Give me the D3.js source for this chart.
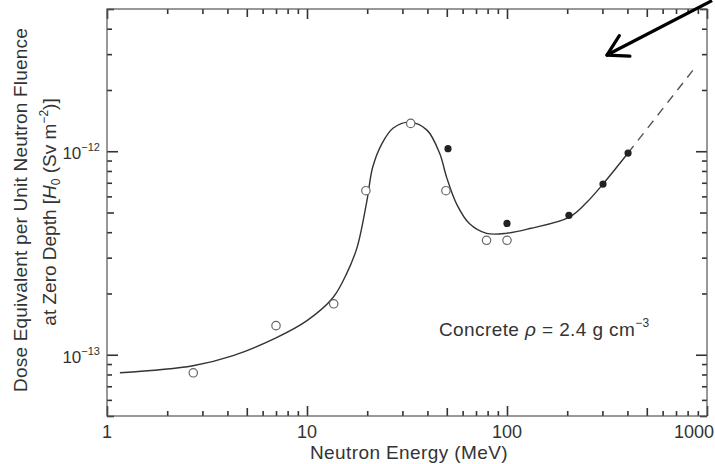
<!DOCTYPE html>
<html><head><meta charset="utf-8">
<script src="https://cdn.jsdelivr.net/npm/d3@7"></script>
<style>
html,body{margin:0;padding:0;background:#fff;}
text{font-family:"Liberation Sans",Arial,Helvetica,sans-serif;fill:#333;}
</style></head>
<body><svg id="chart" width="715" height="464"></svg>
<script>
// ---- data ----
const xTickLabels = ["1","10","100","1000"];
const xMajor = [1,10,100,1000];
const yMajor = [1e-13,1e-12];
const yTickLabels = ["−13","−12"];
const openE = [2.7, 7, 13.6, 19.7, 33, 49.5, 79, 100];
const openH = [8.15e-14, 1.39e-13, 1.78e-13, 6.4e-13, 1.37e-12, 6.4e-13, 3.65e-13, 3.65e-13];
const filledE = [50.7, 100, 204, 302, 403];
const filledH = [1.03e-12, 4.42e-13, 4.84e-13, 6.9e-13, 9.8e-13];
const curveE = [1.16,2.69,4.27,7.0,10,13.5,15.8,17.8,19.95,21.3,23.7,27,32.7,39.8,46,50,56,65,79,99,130,204,250,302,403];
const curveH = [8.15e-14,8.83e-14,9.9e-14,1.21e-13,1.47e-13,1.91e-13,2.51e-13,3.37e-13,5.74e-13,8.34e-13,1.09e-12,1.30e-12,1.39e-12,1.27e-12,9.8e-13,7.4e-13,5.5e-13,4.4e-13,3.95e-13,3.95e-13,4.17e-13,4.73e-13,5.6e-13,6.9e-13,9.8e-13];
const dashE = [403, 850];
const dashH = [9.8e-13, 2.5e-12];
const arrowTail = [1060, 5.5e-12];
const arrowTip = [316, 2.97e-12];

const svg = d3.select("#chart");
const L=107,R=707,T=9,B=416;
const x = d3.scaleLog().domain([1,1000]).range([L,R]);
const y = d3.scaleLog().domain([5e-14,5e-12]).range([B,T]);

const minorX=[], midX=[];
[1,10,100].forEach(d=>{for(let k=2;k<=9;k++){(k===5?midX:minorX).push(d*k);}});
const minorY=[], midY=[];
[1e-14,1e-13,1e-12].forEach(d=>{for(let k=2;k<=9;k++){const v=d*k; if(v>=5e-14*0.999&&v<=5e-12*1.001){(k===5?midY:minorY).push(v);}}});

const stroke="#333";
function axisTicks(gen, tr, vals, size){
  const g=svg.append("g").attr("transform",tr)
    .call(gen.tickValues(vals).tickSize(-size).tickFormat(() => ""));
  g.select(".domain").remove();
  g.selectAll(".tick line").attr("stroke",stroke).attr("stroke-width",1.6);
}
[[xMajor,10],[midX,8],[minorX,5]].forEach(([v,s])=>{
  axisTicks(d3.axisBottom(x),`translate(0,${B})`,v,s);
  axisTicks(d3.axisTop(x),`translate(0,${T})`,v,s);
});
[[yMajor,11],[midY,7],[minorY,5]].forEach(([v,s])=>{
  axisTicks(d3.axisLeft(y),`translate(${L},0)`,v,s);
  axisTicks(d3.axisRight(y),`translate(${R},0)`,v,s);
});
svg.append("rect").attr("x",L).attr("y",T).attr("width",R-L).attr("height",B-T)
  .attr("fill","none").attr("stroke","#555").attr("stroke-width",1.2);

// x tick labels
xMajor.forEach((v,i)=>{
  const px = i===3 ? x(v)-13 : x(v);
  svg.append("text").attr("x",px).attr("y",438).attr("text-anchor","middle")
    .attr("font-size",18).text(xTickLabels[i]);
});
// y tick labels
yMajor.forEach((v,i)=>{
  const t=svg.append("text").attr("x",100).attr("y",y(v)+8).attr("text-anchor","end").attr("font-size",17);
  t.append("tspan").text("10");
  t.append("tspan").attr("dy",-8).attr("font-size",11).text(yTickLabels[i]);
});

// axis titles
svg.append("text").attr("x",(L+R)/2+2).attr("y",459).attr("text-anchor","middle")
  .attr("font-size",19).attr("letter-spacing",0.4).text("Neutron Energy (MeV)");
svg.append("text").attr("transform","translate(27,210) rotate(-90)")
  .attr("text-anchor","middle").attr("font-size",19).attr("letter-spacing",0.2)
  .text("Dose Equivalent per Unit Neutron Fluence");
const yt2=svg.append("text").attr("transform","translate(56,212) rotate(-90)")
  .attr("text-anchor","middle").attr("font-size",19);
yt2.append("tspan").text("at Zero Depth [");
yt2.append("tspan").attr("font-style","italic").text("H");
yt2.append("tspan").attr("font-size",12).attr("dy",4).text("0");
yt2.append("tspan").attr("dy",-4).text(" (Sv m");
yt2.append("tspan").attr("font-size",12).attr("dy",-8).text("−2");
yt2.append("tspan").attr("dy",8).text(")]");

// curve
const line = d3.line().x(d=>x(d[0])).y(d=>y(d[1])).curve(d3.curveCatmullRom.alpha(0.5));
svg.append("path").datum(curveE.map((e,i)=>[e,curveH[i]])).attr("d",line)
  .attr("fill","none").attr("stroke","#333").attr("stroke-width",1.4);
svg.append("path").datum(dashE.map((e,i)=>[e,dashH[i]])).attr("d",d3.line().x(d=>x(d[0])).y(d=>y(d[1])))
  .attr("fill","none").attr("stroke","#555").attr("stroke-width",1.4).attr("stroke-dasharray","9,7");

// points
svg.append("g").selectAll("circle").data(openE.map((e,i)=>[e,openH[i]])).join("circle")
  .attr("cx",d=>x(d[0])).attr("cy",d=>y(d[1])).attr("r",4.2)
  .attr("fill","#fff").attr("stroke","#666").attr("stroke-width",1.2);
svg.append("g").selectAll("circle").data(filledE.map((e,i)=>[e,filledH[i]])).join("circle")
  .attr("cx",d=>x(d[0])).attr("cy",d=>y(d[1])).attr("r",3.6).attr("fill","#222");

// annotation
const an=svg.append("text").attr("x",439).attr("y",336).attr("font-size",19).attr("letter-spacing",0.4);
an.append("tspan").text("Concrete ");
an.append("tspan").attr("font-style","italic").text("ρ");
an.append("tspan").text(" = 2.4 g cm");
an.append("tspan").attr("font-size",12).attr("dy",-9).text("−3");

// arrow
const ax0=x(arrowTail[0]), ay0=y(arrowTail[1]), ax1=x(arrowTip[0]), ay1=y(arrowTip[1]);
svg.append("line").attr("x1",ax0).attr("y1",ay0).attr("x2",ax1).attr("y2",ay1)
  .attr("stroke","#000").attr("stroke-width",3.2);
const ang=Math.atan2(ay0-ay1,ax0-ax1), hl=23;
[Math.PI/6,-Math.PI/6].forEach(a=>{
  svg.append("line").attr("x1",ax1).attr("y1",ay1)
    .attr("x2",ax1+hl*Math.cos(ang+a)).attr("y2",ay1+hl*Math.sin(ang+a))
    .attr("stroke","#000").attr("stroke-width",3.2).attr("stroke-linecap","round");
});
</script></body></html>
